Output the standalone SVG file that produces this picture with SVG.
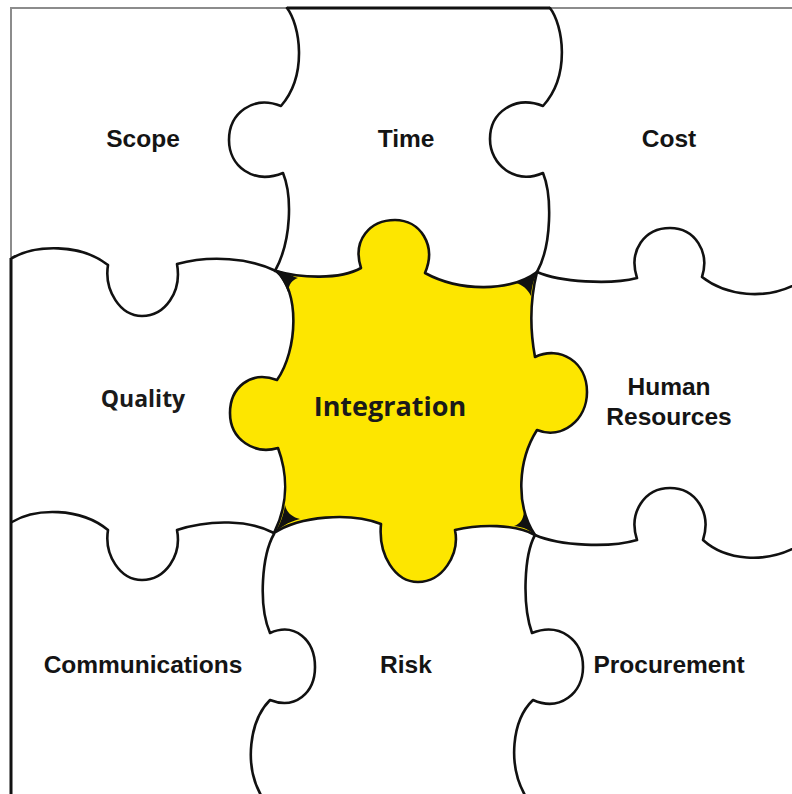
<svg xmlns="http://www.w3.org/2000/svg" width="792" height="794" viewBox="0 0 792 794">
  <style>
    .seam{fill:none;stroke:#111;stroke-width:2.6;stroke-linejoin:round;stroke-linecap:round}
    .frame-soft{fill:none;stroke:#8c8c8c;stroke-width:2}
    .frame-dark{fill:none;stroke:#111;stroke-width:3}
    .core{fill:#fde600;stroke:#111;stroke-width:2.6;stroke-linejoin:round}
    .blob{fill:#111}
    .lbl{font-family:"Liberation Sans",Arial,sans-serif;font-weight:bold;font-size:24.5px;fill:#141414;text-anchor:middle}
    .lbl2{font-family:"Open Sans","Noto Sans",sans-serif;font-weight:bold;fill:#1a1a1a;text-anchor:middle}
  </style>
  <rect width="792" height="794" fill="#fff"/>

  <!-- outer frame -->
  <g id="frame">
    <path class="frame-soft" d="M11 258 V8 H287"/>
    <path class="frame-dark" d="M287 8 H550"/>
    <path class="frame-soft" d="M550 8 H792"/>
    <path class="frame-dark" d="M11 258 V794"/>
  </g>

  <!-- centre piece -->
  <g id="integration">
    <path class="core" d="M276 271 C300 278 340 280 361 268 C352 240 370 220 395 220 C420 220 437 245 425 273 C460 292 510 292 537 272
      C530 300 530 330 535 357 C560 345 587 362 587 392 C587 420 562 440 537 430 C518 460 515 505 535 535
      C515 524 480 524 455 530 C460 555 442 582 418 582 C395 582 378 555 381 524 C350 512 300 516 274 533
      C288 505 288 475 278 448 C255 455 230 440 230 413 C230 388 250 370 277 380 C298 350 300 290 276 271 Z"/>
    <path class="blob" d="M274 269 C285 272 292 276 298 278 C292 280 289 284 288 292 C284 282 280 276 274 269 Z"/>
    <path class="blob" d="M273 535 C280 527 288 522 300 519 C292 517 287 513 285 505 C283 518 279 527 273 535 Z"/>
    <path class="blob" d="M539 270 C530 277 524 281 516 283 C522 285 527 288 531 296 C532 285 534 278 539 270 Z"/>
    <path class="blob" d="M537 537 C530 530 524 527 514 526 C520 524 523 520 524 512 C527 522 531 529 537 537 Z"/>
    <text class="lbl2" x="390" y="416" font-size="27">Integration</text>
  </g>

  <!-- seams between the surrounding pieces -->
  <g id="seams">
    <path class="seam" d="M287 8 C300 25 308 75 281 106 C253 95 229 113 229 140 C229 166 253 185 283 173 C292 195 292 240 275 271"/>
    <path class="seam" d="M550 8 C563 25 571 75 543 106 C515 95 490 112 490 139 C490 165 515 185 543 173 C552 195 552 245 537 272"/>
    <path class="seam" d="M12 258 C35 245 80 243 108 265 C104 290 120 316 142 316 C165 316 182 292 177 264 C210 255 250 258 276 271"/>
    <path class="seam" d="M12 522 C35 508 80 507 108 530 C104 555 120 580 142 580 C165 580 182 556 177 530 C210 519 250 520 274 533"/>
    <path class="seam" d="M274 534 C262 555 258 605 270 633 C295 622 315 640 315 667 C315 693 295 710 270 700 C250 720 243 765 262 797"/>
    <path class="seam" d="M535 535 C524 555 522 605 532 633 C560 622 583 640 583 667 C583 693 560 712 533 700 C512 720 507 765 526 797"/>
    <path class="seam" d="M537 272 C560 282 610 285 637 278 C628 250 645 228 670 228 C695 228 710 252 702 277 C725 295 765 302 800 282"/>
    <path class="seam" d="M535 535 C560 546 610 548 637 540 C628 512 645 488 670 488 C695 488 712 512 703 540 C725 560 765 565 800 545"/>
  </g>

  <g id="scope"><text class="lbl" x="143" y="147">Scope</text></g>
  <g id="time"><text class="lbl" x="406" y="147">Time</text></g>
  <g id="cost"><text class="lbl" x="669" y="147">Cost</text></g>
  <g id="quality"><text class="lbl2" x="143" y="407" font-size="23">Quality</text></g>
  <g id="human-resources">
    <text class="lbl" x="669" y="395">Human</text>
    <text class="lbl" x="669" y="425">Resources</text>
  </g>
  <g id="communications"><text class="lbl" x="143" y="673">Communications</text></g>
  <g id="risk"><text class="lbl" x="406" y="673">Risk</text></g>
  <g id="procurement"><text class="lbl" x="669" y="673">Procurement</text></g>
</svg>
